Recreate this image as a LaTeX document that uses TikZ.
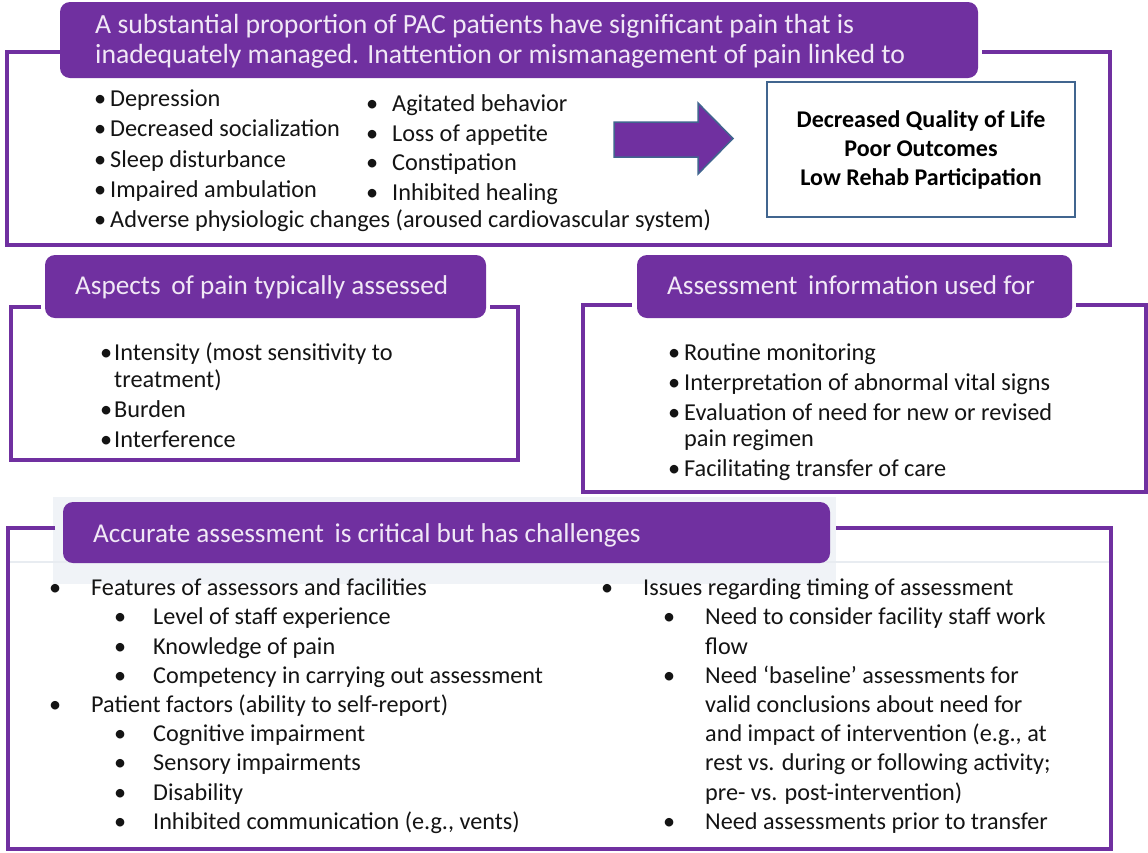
\documentclass[tikz,border=0pt]{standalone}
\usepackage{fontspec}
\setmainfont{Carlito}
\definecolor{pur}{HTML}{7030A0}
\definecolor{hdtxt}{HTML}{F1E8F6}
\definecolor{bluegray}{HTML}{41658F}
\definecolor{band}{HTML}{F0F3F7}
\definecolor{faint}{HTML}{E8ECF1}
\newcommand{\bl}[1]{\llap{\makebox[0pt][c]{\textbullet}\hspace{#1}}}
\begin{document}
\begin{tikzpicture}[x=1pt,y=-1pt,
  frame/.style={draw=pur, line width=3.2pt},
  hdr/.style={fill=pur, rounded corners=10pt, inner sep=0pt, outer sep=0pt, anchor=north west},
  hdrtext/.style={text=hdtxt, font=\fontsize{27.7}{32}\selectfont, anchor=base west, inner sep=0pt},
  hdrtextb/.style={text=hdtxt, font=\fontsize{27.2}{31}\selectfont, anchor=base west, inner sep=0pt},
  item/.style={font=\fontsize{24.3}{28}\selectfont, anchor=base west, inner sep=0pt, text=black!92},
  itemb/.style={font=\fontsize{24.2}{28}\selectfont, anchor=base west, inner sep=0pt, text=black!92},
  resbox/.style={draw=bluegray, line width=2.6pt, inner sep=0pt, minimum width=308pt, minimum height=135pt},
  restext/.style={font=\bfseries\fontsize{24}{29}\selectfont, anchor=base, inner sep=0pt, text=black},
  arrowshape/.style={fill=pur, draw=bluegray, line width=1.5pt, line join=miter}
]
\useasboundingbox (0,0) rectangle (1148,852);
\fill[white] (0,0) rectangle (1148,852);

% ---------- top section ----------
\draw[frame] (60,52) -- (7,52) -- (7,245) -- (1110,245) -- (1110,52) -- (982,52);
\node[hdr, minimum width=918pt, minimum height=76pt] (h1) at (60,2) {};
\node[hdrtext] (h1a) at (95,33) {A substantial proportion of PAC patients have significant pain that is};
\node[hdrtext] (h1b) at (95,63) {inadequately managed. Inattention or mismanagement of pain linked to};

\node[item] (t1) at (110,106) {\bl{10pt}Depression};
\node[item] (t2) at (110,136.5) {\bl{10pt}Decreased socialization};
\node[item] (t3) at (110,167) {\bl{10pt}Sleep disturbance};
\node[item] (t4) at (110,197) {\bl{10pt}Impaired ambulation};
\node[item] (t5) at (110,227) {\bl{10pt}Adverse physiologic changes (aroused cardiovascular system)};
\node[item] (u1) at (392,111) {\bl{20pt}Agitated behavior};
\node[item] (u2) at (392,141) {\bl{20pt}Loss of appetite};
\node[item] (u3) at (392,170.5) {\bl{20pt}Constipation};
\node[item] (u4) at (392,200) {\bl{20pt}Inhibited healing};

\draw[arrowshape] (614,122) -- (698,122) -- (698,103) -- (733,138.5) -- (698,174) -- (698,157) -- (614,157) -- cycle;

\node[resbox] (res) at (921,149.5) {};
\node[restext] (r1) at (921,127) {Decreased Quality of Life};
\node[restext] (r2) at (921,156) {Poor Outcomes};
\node[restext] (r3) at (921,185) {Low Rehab Participation};

% ---------- middle left ----------
\draw[frame] (41,307) -- (11,307) -- (11,460) -- (518,460) -- (518,307) -- (490,307);
\node[hdr, minimum width=441pt, minimum height=63pt] (h2) at (45,255) {};
\node[hdrtextb] (h2a) at (75,294) {Aspects\, of pain typically assessed};
\node[item] (a1) at (114,360) {\bl{8pt}Intensity (most sensitivity to};
\node[item] (a2) at (114,387) {treatment)};
\node[item] (a3) at (114,417) {\bl{8pt}Burden};
\node[item] (a4) at (114,447) {\bl{8pt}Interference};

% ---------- middle right ----------
\draw[frame] (632,305) -- (583,305) -- (583,492) -- (1146,492) -- (1146,305) -- (1076,305);
\node[hdr, minimum width=435pt, minimum height=63pt] (h3) at (637,255) {};
\node[hdrtextb] (h3a) at (667,294) {Assessment\, information used for};
\node[item] (b1) at (684,360) {\bl{10pt}Routine monitoring};
\node[item] (b2) at (684,390) {\bl{10pt}Interpretation of abnormal vital signs};
\node[item] (b3) at (684,420) {\bl{10pt}Evaluation of need for new or revised};
\node[item] (b4) at (684,446) {pain regimen};
\node[item] (b5) at (684,476) {\bl{10pt}Facilitating transfer of care};

% ---------- bottom ----------
\fill[band] (53,497) rectangle (836,584);
\draw[faint, line width=1.5pt] (9,562) -- (1109,562);
\draw[frame] (55,528) -- (8,528) -- (8,849) -- (1111,849) -- (1111,528) -- (836,528);
\node[hdr, minimum width=767pt, minimum height=61pt] (h4) at (63,502) {};
\node[hdrtextb] (h4a) at (93,542) {Accurate assessment\, is critical but has challenges};

\node[itemb] (c1) at (91,595) {\bl{36pt}Features of assessors and facilities};
\node[itemb] (c2) at (153,624.5) {\bl{33pt}Level of staff experience};
\node[itemb] (c3) at (153,654) {\bl{33pt}Knowledge of pain};
\node[itemb] (c4) at (153,683) {\bl{33pt}Competency in carrying out assessment};
\node[itemb] (c5) at (91,712) {\bl{36pt}Patient factors (ability to self-report)};
\node[itemb] (c6) at (153,741) {\bl{33pt}Cognitive impairment};
\node[itemb] (c7) at (153,770.5) {\bl{33pt}Sensory impairments};
\node[itemb] (c8) at (153,800) {\bl{33pt}Disability};
\node[itemb] (c9) at (153,829) {\bl{33pt}Inhibited communication (e.g., vents)};

\node[itemb] (d1) at (643,595) {\bl{36pt}Issues regarding timing of assessment};
\node[itemb] (d2) at (705,624.5) {\bl{36pt}Need to consider facility staff work};
\node[itemb] (d3) at (705,654) {flow};
\node[itemb] (d4) at (705,683) {\bl{36pt}Need ‘baseline’ assessments for};
\node[itemb] (d5) at (705,712) {valid conclusions about need for};
\node[itemb] (d6) at (705,741) {and impact of intervention (e.g., at};
\node[itemb] (d7) at (705,770.5) {rest vs. during or following activity;};
\node[itemb] (d8) at (705,800) {pre- vs. post-intervention)};
\node[itemb] (d9) at (705,829) {\bl{36pt}Need assessments prior to transfer};
\end{tikzpicture}
\end{document}
